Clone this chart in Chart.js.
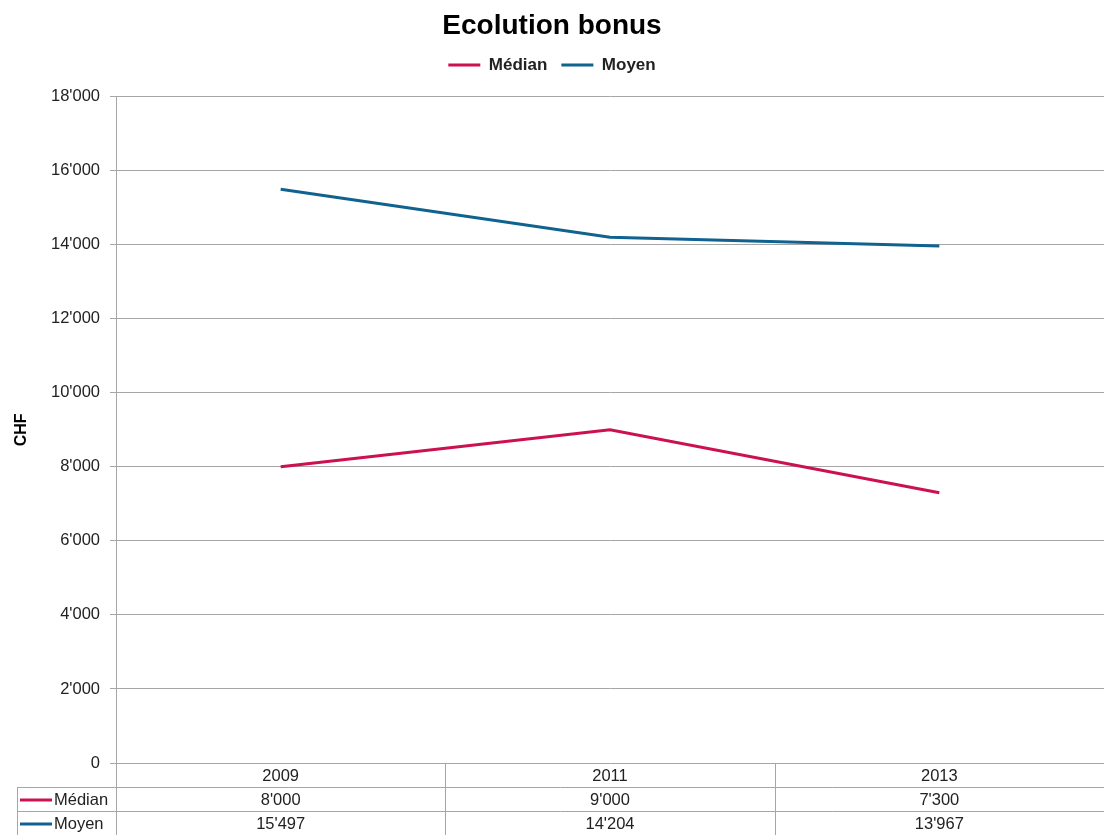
<!DOCTYPE html>
<html>
<head>
<meta charset="utf-8">
<script src="https://cdn.jsdelivr.net/npm/chart.js@4/dist/chart.umd.min.js"></script>
<style>
  html, body { margin: 0; padding: 0; background: #fff; }
  #wrap { width: 1104px; height: 835px; }
</style>
</head>
<body>
<div id="wrap"><canvas id="bonusChart"></canvas></div>
<script>
const years = ['2009', '2011', '2013'];
const median = [8000, 9000, 7300];
const average = [15497, 14204, 13967];
const yTicks = [0, 2000, 4000, 6000, 8000, 10000, 12000, 14000, 16000, 18000];

const FONT = "'Liberation Sans', Arial, sans-serif";
const GRID = '#a6a6a6';
const RED = '#cc1150';
const BLUE = '#10628f';
const TXT = 16.5;

function fmt(v) {
  return String(v).replace(/\B(?=(\d{3})+(?!\d))/g, "'");
}

// extra room between legend and plot
const legendGap = {
  id: 'legendGap',
  afterInit(chart) {
    const fit = chart.legend.fit;
    chart.legend.fit = function () {
      fit.call(this);
      this.height += 13;
    };
  }
};

// data table under the plot: years row + one row per series
const dataTable = {
  id: 'dataTable',
  afterDraw(chart) {
    const { ctx, chartArea, scales } = chart;
    const x = scales.x;
    const rowH = 24;
    const top = chartArea.bottom;
    const right = chart.width;
    const keyLeft = 17;
    const step = x.getPixelForValue(1) - x.getPixelForValue(0);

    ctx.save();
    ctx.strokeStyle = GRID;
    ctx.lineWidth = 1;
    ctx.beginPath();
    for (let r = 1; r <= 3; r++) {
      const y = Math.round(top + r * rowH) + 0.5;
      ctx.moveTo(keyLeft, y);
      ctx.lineTo(right, y);
    }
    ctx.moveTo(keyLeft + 0.5, top + rowH);
    ctx.lineTo(keyLeft + 0.5, top + 3 * rowH);
    for (let i = 0; i <= years.length; i++) {
      const xv = Math.round(x.getPixelForValue(0) - step / 2 + i * step) + 0.5;
      ctx.moveTo(xv, top);
      ctx.lineTo(xv, top + 3 * rowH);
    }
    ctx.stroke();

    ctx.font = TXT + 'px ' + FONT;
    ctx.fillStyle = '#222';
    ctx.textAlign = 'center';
    ctx.textBaseline = 'middle';
    const rows = [years, median.map(fmt), average.map(fmt)];
    rows.forEach((row, r) => {
      const y = top + r * rowH + rowH / 2 + 1;
      row.forEach((txt, i) => ctx.fillText(txt, x.getPixelForValue(i), y));
    });

    chart.data.datasets.forEach((ds, k) => {
      const y = top + (k + 1) * rowH + rowH / 2 + 1;
      ctx.strokeStyle = ds.borderColor;
      ctx.lineWidth = 3;
      ctx.beginPath();
      ctx.moveTo(20, y);
      ctx.lineTo(52, y);
      ctx.stroke();
      ctx.textAlign = 'left';
      ctx.fillStyle = '#222';
      ctx.fillText(ds.label, 54, y);
    });
    ctx.restore();
  }
};

new Chart(document.getElementById('bonusChart'), {
  type: 'line',
  data: {
    labels: years,
    datasets: [{
      label: 'Médian',
      data: median,
      borderColor: RED,
      backgroundColor: RED,
      borderWidth: 3,
      pointRadius: 0,
      tension: 0
    }, {
      label: 'Moyen',
      data: average,
      borderColor: BLUE,
      backgroundColor: BLUE,
      borderWidth: 3,
      pointRadius: 0,
      tension: 0
    }]
  },
  options: {
    responsive: true,
    maintainAspectRatio: false,
    animation: false,
    plugins: {
      title: {
        display: true,
        text: 'Ecolution bonus',
        color: '#000',
        font: { family: FONT, size: 28, weight: 'bold' },
        padding: { top: 9, bottom: 0 }
      },
      legend: {
        position: 'top',
        labels: {
          usePointStyle: true,
          pointStyle: 'line',
          pointStyleWidth: 32,
          boxHeight: 14,
          padding: 14,
          color: '#222',
          font: { family: FONT, size: 17, weight: 'bold' }
        }
      },
      tooltip: { enabled: false }
    },
    scales: {
      x: {
        offset: true,
        grid: { display: false },
        border: { display: false },
        ticks: { display: false },
        afterFit(scale) { scale.height = 72; }
      },
      y: {
        min: 0,
        max: 18000,
        afterBuildTicks(scale) { scale.ticks = yTicks.map(v => ({ value: v })); },
        grid: { color: GRID, tickLength: 6, drawTicks: true },
        border: { color: GRID },
        ticks: {
          color: '#222',
          padding: 10,
          font: { family: FONT, size: TXT },
          callback: v => fmt(v)
        },
        title: {
          display: true,
          text: 'CHF',
          color: '#000',
          padding: { top: 12, bottom: 4 },
          font: { family: FONT, size: 16, weight: 'bold' }
        },
        afterFit(scale) { scale.width = 116; }
      }
    }
  },
  plugins: [legendGap, dataTable]
});
</script>
</body>
</html>
